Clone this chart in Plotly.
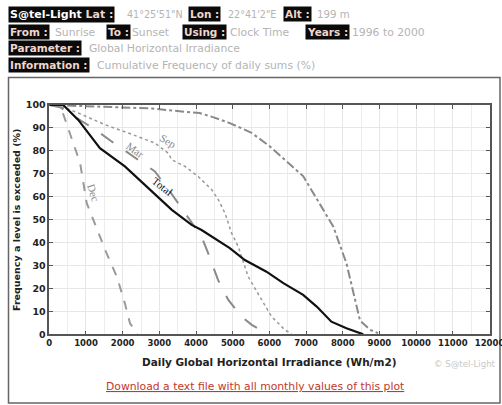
import plotly.graph_objects as go

W, H = 502, 405

# ---------------- data ----------------
total_x = [0, 380, 790, 1380, 2060, 2610, 3150, 3340, 3880, 4150, 4920, 5330, 5920, 6380, 6920, 7290, 7690, 8100, 8560]
total_y = [100, 100, 93.5, 81.2, 73.2, 65.2, 57.2, 54.3, 47.7, 45.5, 37.6, 32.4, 27.3, 22.3, 17.2, 12.1, 5.5, 2.6, 0]

jan_x = [0, 1000, 2000, 2800, 3400, 4100, 4500, 4920, 5500, 6010, 6920, 7740, 8100, 8470, 8740, 8960]
jan_y = [100, 99.5, 99, 98.5, 97.5, 96.5, 94.5, 92.1, 88, 82, 69, 47, 31, 6, 2, 0.5]

sep_x = [0, 430, 790, 1520, 2150, 2880, 3240, 3340, 3700, 4060, 4430, 4610, 4790, 4970, 5150, 5420, 5790, 6060, 6200, 6420, 6600]
sep_y = [100, 98.7, 96.5, 91.4, 87.8, 83.4, 79, 76.1, 73.2, 68.8, 63, 58.6, 52.8, 44.1, 38.3, 25.2, 15, 7.7, 5.5, 1.9, 0.3]

mar_x = [0, 300, 750, 1250, 1700, 2430, 2880, 3300, 3700, 4150, 4330, 4600, 4880, 5240, 5520, 5750, 5900]
mar_y = [100, 99, 94.3, 89.3, 84.1, 76.1, 71, 62, 53, 42.6, 35.4, 23.7, 15, 7.7, 4.1, 2, 0.5]

dec_x = [0, 200, 340, 470, 610, 840, 1020, 1200, 1560, 1840, 2060, 2200, 2340, 2400]
dec_y = [100, 100, 97.9, 92.1, 85.6, 74.7, 57.2, 49.9, 35.4, 25.2, 13.5, 4.8, 1.1, 0]

series_names = ["Jan", "Sep", "Mar", "Dec", "Total"]

header_labels = ["S@tel-Light", "Lat :", "Lon :", "Alt :", "From :", "To :", "Using :", "Years :", "Parameter :", "Information :"]
header_values = ["41°25'51\"N", "22°41'2\"E", "199 m", "Sunrise", "Sunset", "Clock Time", "1996 to 2000",
                 "Global Horizontal Irradiance", "Cumulative Frequency of daily sums (%)"]

x_title = "Daily Global Horizontal Irradiance (Wh/m2)"
y_title = "Frequency a level is exceeded (%)"

# ---------------- helpers ----------------
def px(x):
    return x / W

def py(y):
    return 1 - y / H

fig = go.Figure()

fig.add_trace(go.Scatter(x=jan_x, y=jan_y, mode="lines", name="Jan",
                         line=dict(color="#8a8a8a", width=2, dash="dashdot")))
fig.add_trace(go.Scatter(x=sep_x, y=sep_y, mode="lines", name="Sep",
                         line=dict(color="#9a9a9a", width=1.5, dash="dot")))
fig.add_trace(go.Scatter(x=mar_x, y=mar_y, mode="lines", name="Mar",
                         line=dict(color="#8a8a8a", width=2, dash="longdash")))
fig.add_trace(go.Scatter(x=dec_x, y=dec_y, mode="lines", name="Dec",
                         line=dict(color="#9a9a9a", width=2, dash="dash")))
fig.add_trace(go.Scatter(x=total_x, y=total_y, mode="lines", name="Total",
                         line=dict(color="#111111", width=2.2)))

annotations = []

# curve labels (data coords)
curve_labels = [
    ("Jan", 2930, 100.8, 12, "#8a8a8a"),
    ("Sep", 3240, 84.5, 32, "#8a8a8a"),
    ("Mar", 2340, 80.5, 35, "#8a8a8a"),
    ("Total", 3070, 64.5, 38, "#111111"),
    ("Dec", 1200, 61.5, 72, "#8a8a8a"),
]
for t, x, y, ang, col in curve_labels:
    annotations.append(dict(x=x, y=y, xref="x", yref="y", text=t, showarrow=False,
                            xanchor="center", yanchor="middle",
                            textangle=ang, font=dict(family="Liberation Serif", size=11, color=col)))

# header
lab_font = dict(family="DejaVu Sans", size=10.5, color="#f0d6cc")
val_font = dict(family="DejaVu Sans", size=10.8, color="#b4b4b4")

def label_box(text, x, y, white=False):
    annotations.append(dict(x=px(x), y=py(y), xref="paper", yref="paper", xanchor="left", yanchor="middle",
                            text="<b>" + text + "</b>", showarrow=False, bgcolor="#0a0a0a", borderpad=1,
                            font=dict(lab_font, color="#ffffff" if white else "#f0d6cc")))

def value_text(text, x, y, size=10.8):
    annotations.append(dict(x=px(x), y=py(y), xref="paper", yref="paper", xanchor="left", yanchor="middle",
                            text=text, showarrow=False, font=dict(val_font, size=size)))

# row 1
annotations.append(dict(x=px(8), y=py(14.5), xref="paper", yref="paper", xanchor="left", yanchor="middle",
                        text="<b><span style='color:#ffffff'>" + header_labels[0] + "</span> " + header_labels[1] + "</b>",
                        showarrow=False, bgcolor="#0a0a0a", borderpad=1, font=dict(lab_font, size=11)))
value_text(header_values[0], 125, 15, 9.6)
label_box(header_labels[2], 188, 14.5)
value_text(header_values[1], 226, 15, 9.6)
label_box(header_labels[3], 283, 14.5)
value_text(header_values[2], 315, 15, 10.2)
# row 2
label_box(header_labels[4], 8, 32)
value_text(header_values[3], 53, 32.5)
label_box(header_labels[5], 106, 32)
value_text(header_values[4], 130, 32.5)
label_box(header_labels[6], 182, 32)
value_text(header_values[5], 228, 32.5)
label_box(header_labels[7], 305, 32)
value_text(header_values[6], 350, 32.5)
# rows 3,4
label_box(header_labels[8], 8, 48)
value_text(header_values[7], 87, 48.5)
label_box(header_labels[9], 8, 65)
value_text(header_values[8], 95, 65.5)

# axis titles and footer
annotations.append(dict(x=px(269), y=py(362), xref="paper", yref="paper", text="<b>" + x_title + "</b>",
                        xanchor="center", yanchor="middle",
                        showarrow=False, font=dict(family="DejaVu Sans", size=10.5, color="#222222")))
annotations.append(dict(x=px(16), y=py(220), xref="paper", yref="paper", text="<b>" + y_title + "</b>",
                        xanchor="center", yanchor="middle",
                        showarrow=False, textangle=-90, font=dict(family="DejaVu Sans", size=9.5, color="#222222")))
annotations.append(dict(x=px(432), y=py(364), xref="paper", yref="paper", text="© S@tel-Light",
                        xanchor="left", yanchor="middle",
                        showarrow=False, font=dict(family="DejaVu Sans", size=8.6, color="#c8c8c8")))
annotations.append(dict(x=px(255), y=py(386), xref="paper", yref="paper",
                        xanchor="center", yanchor="middle",
                        text="<u>Download a text file with all monthly values of this plot</u>",
                        showarrow=False, font=dict(family="DejaVu Sans", size=10.8, color="#c0392b")))

shapes = [
    dict(type="rect", xref="paper", yref="paper", x0=px(8.5), x1=px(500), y0=py(403), y1=py(77.5),
         line=dict(color="#666666", width=1.5), layer="below"),
]

fig.update_layout(
    width=W, height=H,
    autosize=False,
    margin=dict(l=0, r=0, t=0, b=0, autoexpand=False),
    paper_bgcolor="white", plot_bgcolor="white",
    showlegend=False,
    annotations=annotations,
    shapes=shapes,
    xaxis=dict(domain=[px(49.3), px(489.5)], range=[0, 12000], dtick=1000, tick0=0,
               tickformat="d", ticklabeloverflow="allow", automargin=False,
               showline=True, linecolor="#555555", linewidth=1.5, mirror="ticks",
               ticks="inside", ticklen=4, tickcolor="#555555",
               showgrid=True, gridcolor="#e6e6e6", gridwidth=1, zeroline=False,
               minor=dict(dtick=500, showgrid=True, gridcolor="#ededed"),
               tickfont=dict(family="DejaVu Sans", size=8.5, color="#222222"),
               tickprefix="<b>", ticksuffix="</b>"),
    yaxis=dict(domain=[py(334.3), py(105)], range=[0, 100], dtick=10, tick0=0,
               automargin=False,
               showline=True, linecolor="#555555", linewidth=1.5, mirror="ticks",
               ticks="inside", ticklen=4, tickcolor="#555555",
               showgrid=True, gridcolor="#e6e6e6", gridwidth=1, zeroline=False,
               tickfont=dict(family="DejaVu Sans", size=9.5, color="#222222"),
               tickprefix="<b>", ticksuffix="</b>"),
)

fig.write_html("out.html", config=dict(displayModeBar=False),
               post_script="document.body.style.margin='0';document.body.style.overflow='hidden';")
